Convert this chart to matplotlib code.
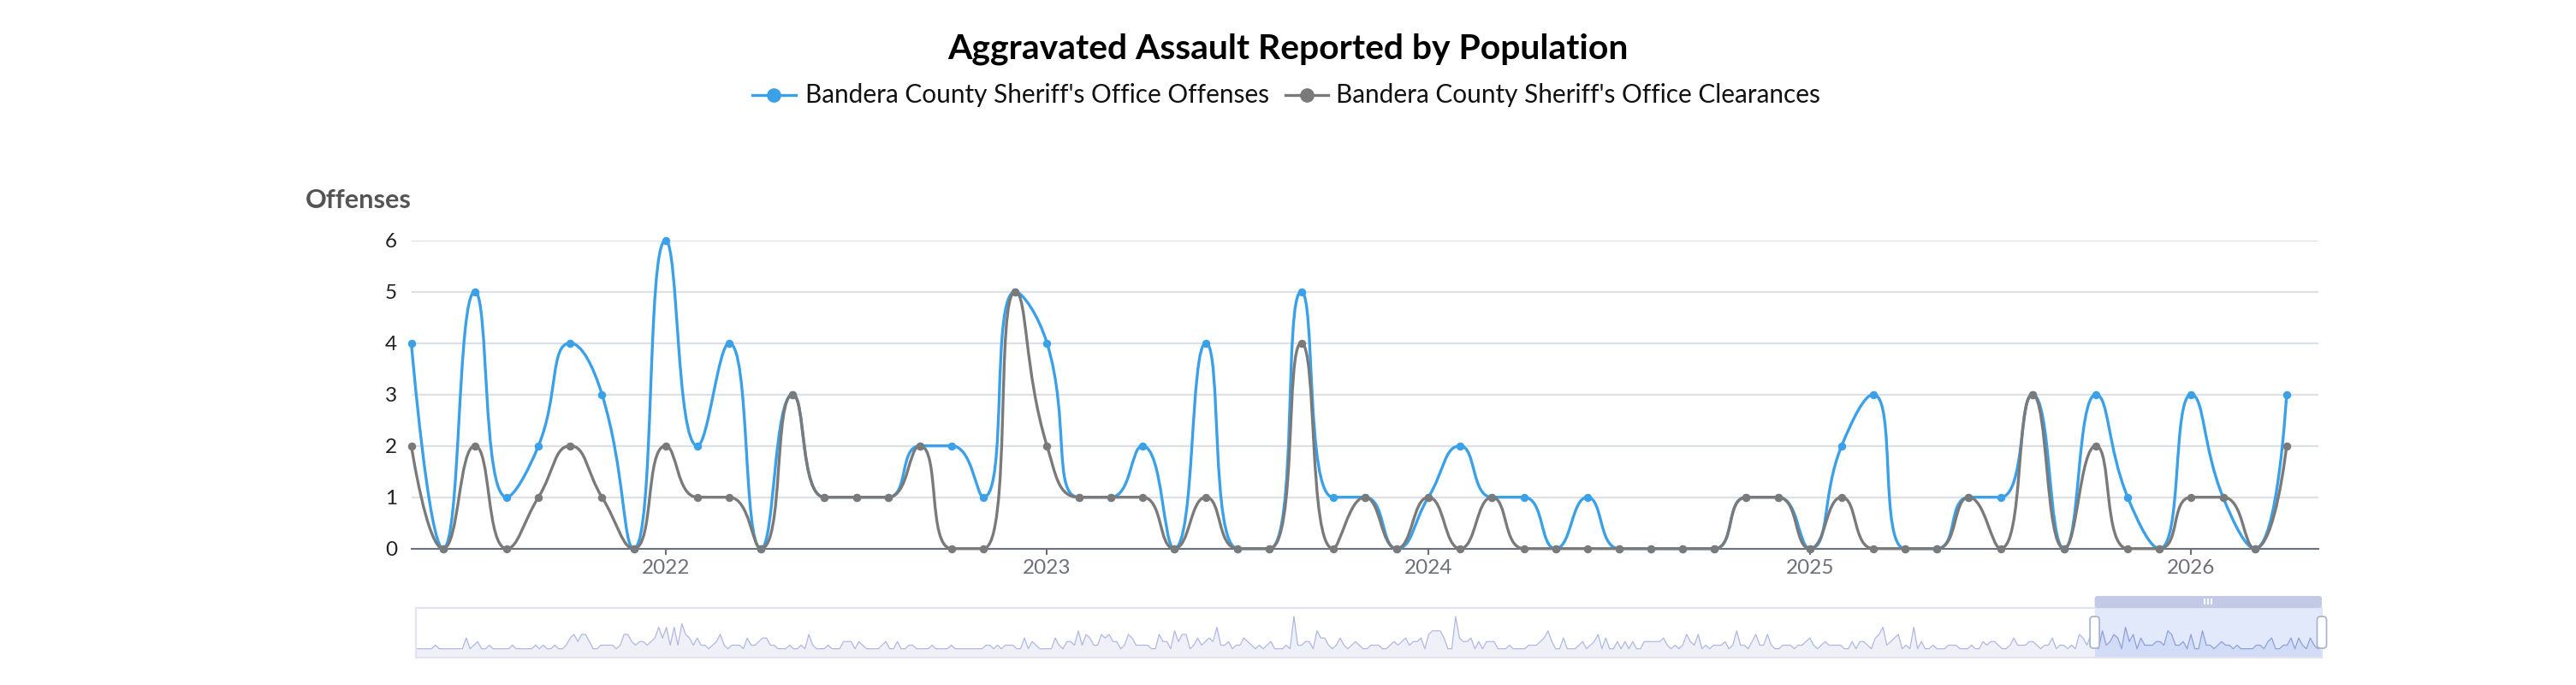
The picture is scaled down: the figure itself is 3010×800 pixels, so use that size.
import numpy as np
import pandas as pd
import matplotlib
matplotlib.use("Agg")
import matplotlib.pyplot as plt
from matplotlib.path import Path
from matplotlib.patches import PathPatch, Rectangle, FancyBboxPatch
from matplotlib.lines import Line2D
from matplotlib.transforms import IdentityTransform

# ---------------- data ----------------
months = pd.date_range("2021-05-01", periods=60, freq="MS")
offenses = [4, 0, 5, 1, 2, 4, 3, 0, 6, 2,
            4, 0, 3, 1, 1, 1, 2, 2, 1, 5,
            4, 1, 1, 2, 0, 4, 0, 0, 5, 1,
            1, 0, 1, 2, 1, 1, 0, 1, 0, 0,
            0, 0, 1, 1, 0, 2, 3, 0, 0, 1,
            1, 3, 0, 3, 1, 0, 3, 1, 0, 3]
clearances = [2, 0, 2, 0, 1, 2, 1, 0, 2, 1,
              1, 0, 3, 1, 1, 1, 2, 0, 0, 5,
              2, 1, 1, 1, 0, 1, 0, 0, 4, 0,
              1, 0, 1, 0, 1, 0, 0, 0, 0, 0,
              0, 0, 1, 1, 0, 1, 0, 0, 0, 1,
              0, 3, 0, 2, 0, 0, 1, 1, 0, 2]

# slider overview: monthly offenses before the zoomed window
history_a = [0, 0, 0, 0, 0, 1, 0, 0, 0, 0, 0, 0, 0, 3, 0, 1, 2, 0, 0, 1,
             0, 0, 0, 0, 0, 1, 0, 0, 0, 0, 0, 1, 0, 1, 0, 0, 1, 0, 0, 1,
             3, 4, 2, 4, 4, 2, 0, 0, 1, 1, 1, 1, 0, 1, 4, 4, 2, 1, 2, 2,
             1, 2, 3, 6, 3, 6, 1, 6, 1, 7, 4, 3, 1, 3, 1, 1, 0, 1, 2, 4,
             1, 0, 1, 1, 1, 0, 3, 1]
history_b = [1, 2, 3, 3, 1, 1, 0, 0, 0, 1, 0, 0, 1, 0, 4, 1, 0, 0, 0, 1,
             0, 0, 0, 2, 2, 2, 0, 2, 1, 0, 0, 0, 0, 1, 2, 0, 0, 2, 0, 0,
             1, 1, 0, 0, 0, 0, 1, 0, 0, 0, 0, 1, 0, 0, 0, 0, 0, 0, 0, 0,
             1, 1, 0, 1, 0, 1, 1, 1, 0, 0, 3, 0, 2, 1, 0, 0, 0, 0, 3, 1,
             0, 2, 2, 1, 5, 1, 4]
history_c = [3, 1, 1, 4, 3, 4, 2, 2, 0, 1, 4, 3, 1, 1, 1, 1, 0, 0, 4, 2,
             2, 0, 5, 2, 4, 4, 0, 1, 3, 1, 2, 3, 2, 6, 1, 1, 2, 0, 1, 1,
             3, 2, 1, 0, 1, 0, 1, 2, 0, 0, 0, 1, 0, 9, 1, 1, 2, 2, 0, 5,
             3, 3, 1, 0, 1, 3, 1, 0, 1, 2, 1, 0, 0, 1, 1, 1, 0, 0, 1, 2,
             1, 2, 3, 1, 2, 2, 3, 0]
history_d = [4, 5, 5, 5, 3, 0, 0, 9, 3, 2, 2, 3, 0, 2, 0, 2, 2, 2, 0, 0,
             0, 1, 0, 0, 0, 0, 1, 1, 1, 2, 3, 5, 2, 0, 0, 3, 0, 0, 0, 1,
             2, 0, 1, 2, 4, 0, 3, 0, 0, 2, 0, 2, 0, 2, 0, 0, 2, 2, 2, 2,
             2, 3, 1, 0, 1, 0, 1, 4, 2, 1, 4, 0, 1, 0, 1, 1, 1, 2, 0, 1,
             5, 1, 1, 0, 2, 4, 1]
history_e = [1, 4, 1, 0, 0, 1, 1, 1, 0, 1, 1, 2, 3, 1, 0, 1, 2, 1, 1, 1,
             1, 0, 0, 2, 0, 2, 2, 1, 0, 3, 4, 6, 1, 2, 3, 4, 0, 1, 0, 6,
             0, 2, 0, 0, 1, 0, 0, 0, 1, 1, 1, 0, 0, 0, 1, 0, 0, 2, 1, 2,
             2, 1, 0, 0, 1, 3, 1, 1, 1, 2, 2, 1, 0, 1, 1, 3, 0, 1, 1, 0,
             1, 0, 4, 3, 1, 4]

title = "Aggravated Assault Reported by Population"
series_names = ["Bandera County Sheriff's Office Offenses",
                "Bandera County Sheriff's Office Clearances"]
y_name = "Offenses"
colors = ["#3aa0e8", "#7a7a7a"]

# ---------------- figure ----------------
W, H = 3010, 800
fig = plt.figure(figsize=(W / 100, H / 100), dpi=100)
plt.rcParams['font.family'] = ['Lato', 'DejaVu Sans']
renderer = fig.canvas.get_renderer()


def fx(p):
    return p / W


def fy(p):
    return 1 - p / H


def fit(t, target):
    w = t.get_window_extent(renderer).width
    t.set_fontsize(t.get_fontsize() * target / w)


ax = fig.add_axes([fx(480.6), fy(640.7), (2709 - 480.6) / W, 360 / H])
xs = np.arange(len(months))
ax.set_xlim(0, len(months))
ax.set_ylim(0, 6)
ax.set_yticks(range(0, 7))
year_idx = [i for i, m in enumerate(months) if m.month == 1]
ax.set_xticks(year_idx)
ax.set_xticklabels([str(months[i].year) for i in year_idx])

for s in ["top", "right", "left"]:
    ax.spines[s].set_visible(False)
ax.spines["bottom"].set_color("#6e7079")
ax.spines["bottom"].set_linewidth(1.5)
ax.spines["bottom"].set_zorder(1)
ax.yaxis.grid(True, color="#dde1e7", lw=1.6)
ax.set_axisbelow(True)
ax.tick_params(axis="y", length=0, pad=12, labelsize=17.5, labelcolor="#222222")
ax.tick_params(axis="x", length=5, width=1.5, color="#6e7079", pad=4,
               labelsize=17.5, labelcolor="#6e7079")


def smooth_path(ax, xv, yv, smooth=0.5):
    pts = ax.transData.transform(np.column_stack([xv, yv]).astype(float))
    n = len(pts)
    verts = [tuple(pts[0])]
    codes = [Path.MOVETO]
    cp0 = pts[0].copy()
    for i in range(1, n):
        x, y = pts[i]
        px, py = pts[i - 1]
        if i == n - 1:
            cp1 = np.array([x, y])
            ncp0 = None
        else:
            nx, ny = pts[i + 1]
            lp = np.hypot(x - px, y - py)
            ln = np.hypot(nx - x, ny - y)
            r = ln / (ln + lp)
            vx, vy = nx - px, ny - py
            ncx = x + vx * smooth * r
            ncy = y + vy * smooth * r
            ncx = min(ncx, max(nx, x)); ncy = min(ncy, max(ny, y))
            ncx = max(ncx, min(nx, x)); ncy = max(ncy, min(ny, y))
            vx, vy = ncx - x, ncy - y
            c1x = x - vx * lp / ln
            c1y = y - vy * lp / ln
            c1x = min(c1x, max(px, x)); c1y = min(c1y, max(py, y))
            c1x = max(c1x, min(px, x)); c1y = max(c1y, min(py, y))
            vx, vy = x - c1x, y - c1y
            ncp0 = np.array([x + vx * ln / lp, y + vy * ln / lp])
            cp1 = np.array([c1x, c1y])
        verts += [tuple(cp0), tuple(cp1), (x, y)]
        codes += [Path.CURVE4] * 3
        cp0 = ncp0
    dv = ax.transData.inverted().transform(np.array(verts))
    return Path(dv, codes)


for vals, col, z in [(offenses, colors[0], 3), (clearances, colors[1], 4)]:
    p = smooth_path(ax, xs, vals)
    ax.add_patch(PathPatch(p, fill=False, edgecolor=col, lw=2.4, zorder=z,
                           clip_on=False, joinstyle="round", capstyle="round"))
    ax.plot(xs, vals, "o", color=col, ms=5.8, zorder=z + 0.5, clip_on=False)

# ---------------- title & legend ----------------
t = fig.text(0.5, fy(57), title, ha="center", va="center", fontweight="bold",
             fontsize=26, color="#000000")
fit(t, 796)

leg_icons = [(879, 930), (1502, 1552)]
leg_text_x = [941, 1561]
ly = fy(111)
lt = []
for (a, b), tx, name, col in zip(leg_icons, leg_text_x, series_names, colors):
    fig.add_artist(Line2D([fx(a), fx(b)], [ly, ly], transform=fig.transFigure,
                          color=col, lw=2.4))
    fig.add_artist(Line2D([fx((a + b) / 2)], [ly], transform=fig.transFigure,
                          color=col, marker="o", ms=11, lw=0))
    lt.append(fig.text(fx(tx), ly, name, ha="left", va="center", fontsize=20,
                       color="#111111"))
fit(lt[0], 543)
lt[1].set_fontsize(lt[0].get_fontsize())

yn = fig.text(fx(357), fy(234), y_name, ha="left", va="center",
              fontweight="bold", fontsize=18, color="#545454")
fit(yn, 124)

# ---------------- data zoom slider ----------------
history = history_a + history_b + history_c + history_d + history_e
spark = np.array(history + offenses, dtype=float)
N = len(spark)
sx = np.arange(N)
start = len(history)
ybot, ytop = -2.46, 11.38

ax2 = fig.add_axes([fx(486.3), fy(768), (2713 - 486.3) / W, 58 / H])
ax2.set_axis_off()
ax2.set_xlim(0, N - 1)
ax2.set_ylim(ybot, ytop)
ax2.fill_between(sx[:start + 1], spark[:start + 1], ybot, color="#eff0f8", lw=0, zorder=1)
ax2.plot(sx[:start + 1], spark[:start + 1], color="#aeb8e2", lw=0.9, zorder=2)
ax2.axvspan(start, N - 1, color="#e2e9fb", lw=0, zorder=1.5)
ax2.fill_between(sx[start:], spark[start:], ybot, color="#d3dcf6", lw=0, zorder=2)
ax2.plot(sx[start:], spark[start:], color="#8e9fdb", lw=0.9, zorder=3)
ax2.add_patch(Rectangle((0, 0), 1, 1, transform=ax2.transAxes, fill=False,
                        ec="#dfe3f2", lw=1.6, clip_on=False, zorder=4))

# move handle bar over the window
x_l = ax2.transData.transform((start, 0))[0]
x_r = ax2.transData.transform((N - 1, 0))[0]
fig.add_artist(FancyBboxPatch((x_l, H - 710), x_r - x_l, 14,
                              boxstyle="round,pad=0,rounding_size=3",
                              fc="#c3cae8", ec="none", transform=IdentityTransform()))
xm = (x_l + x_r) / 2
for dx in (-4, 0, 4):
    fig.add_artist(Rectangle((xm + dx - 1, H - 706), 2, 7, fc="white", ec="none",
                             transform=IdentityTransform()))
for xh in (x_l, x_r):
    fig.add_artist(FancyBboxPatch((xh - 5.5, H - 757), 11, 37,
                                  boxstyle="round,pad=0,rounding_size=4",
                                  fc="white", ec="#a9b5d3", lw=1.3,
                                  transform=IdentityTransform(), zorder=5))

fig.savefig("out.png", dpi=100, facecolor="white")
